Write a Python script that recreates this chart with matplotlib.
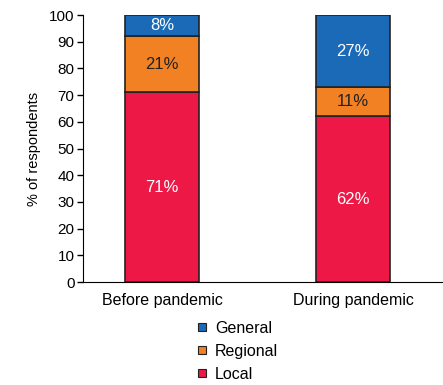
import matplotlib.pyplot as plt
from matplotlib.lines import Line2D

plt.rcParams['font.family'] = ['Liberation Sans', 'DejaVu Sans']

# datos
categorias = ['Before pandemic', 'During pandemic']
local = [71, 62]
regional = [21, 11]
general = [8, 27]

c_local = '#EE1846'
c_regional = '#F28123'
c_general = '#1A6AB8'

fig = plt.figure(figsize=(4.43, 3.85), dpi=100)
ax = fig.add_axes([0.187, 0.2675, 0.813, 0.6935])

x = [0, 1]
ancho = 0.39
borde = dict(edgecolor='#222222', linewidth=1.2)

ax.bar(x, local, ancho, color=c_local, **borde)
ax.bar(x, regional, ancho, bottom=local, color=c_regional, **borde)
base_gen = [a + b for a, b in zip(local, regional)]
ax.bar(x, general, ancho, bottom=base_gen, color=c_general, **borde)

# etiquetas dentro de las barras
for i in range(len(x)):
    ax.text(x[i], local[i] / 2, f'{local[i]}%', ha='center', va='center',
            color='white', fontsize=12)
    ax.text(x[i], local[i] + regional[i] / 2, f'{regional[i]}%', ha='center',
            va='center', color='#222222', fontsize=12)
    ax.text(x[i], base_gen[i] + general[i] / 2, f'{general[i]}%', ha='center',
            va='center', color='white', fontsize=12)

ax.set_xlim(-0.414, 1.47)
ax.set_ylim(0, 100)
ax.set_yticks(range(0, 101, 10))
ax.set_xticks(x)
ax.set_xticklabels(categorias, fontsize=11.5)
ax.tick_params(axis='x', length=0, pad=8)
ax.tick_params(axis='y', labelsize=11, length=4, width=1, pad=2)
ax.set_ylabel('% of respondents', fontsize=10.5, labelpad=6)
ax.spines['top'].set_visible(False)
ax.spines['right'].set_visible(False)

# leyenda
handles = [Line2D([], [], marker='s', ls='', markersize=6, mfc=c, mec='#222222', mew=0.8)
           for c in (c_general, c_regional, c_local)]
fig.legend(handles, ['General', 'Regional', 'Local'], loc='center',
           bbox_to_anchor=(0.535, 0.088), frameon=False, fontsize=11.5,
           handlelength=0.8, handletextpad=0.4, labelspacing=0.5)

plt.savefig('out.png', dpi=100)
